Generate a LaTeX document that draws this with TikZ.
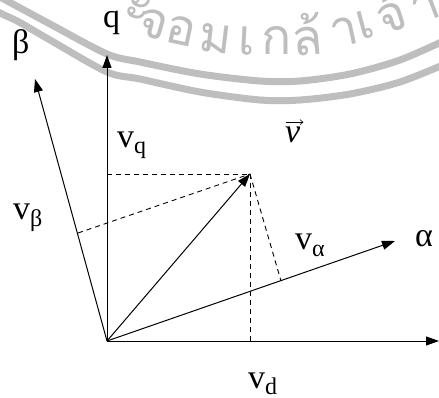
\documentclass[tikz,border=0pt]{standalone}
\usepackage{fontspec}
\setmainfont{Liberation Serif}
\newfontfamily\lbfont{Liberation Serif}
\newfontfamily\thaifont[Script=Thai]{Loma}
\usetikzlibrary{arrows.meta}
\definecolor{wmgray}{RGB}{190,190,190}
\newcommand{\mysub}[1]{\raisebox{-6pt}{\fontsize{24}{26}\selectfont #1}}
\begin{document}
\begin{tikzpicture}[x=1pt,y=-1pt,
  axis/.style={line width=1pt, -{Triangle[length=13pt,width=9pt]}},
  proj/.style={line width=0.9pt, dash pattern=on 5pt off 4pt},
  lbl/.style={inner sep=0pt, anchor=base west, font=\lbfont\fontsize{34}{40}\selectfont},
  wm/.style={line width=7pt, draw=wmgray},
  wmtext/.style={text=wmgray, anchor=base, inner sep=0pt, font=\thaifont\fontsize{50}{60}\selectfont}]
\useasboundingbox (0,0) rectangle (439,398);
% watermark
\draw[wm] plot[smooth] coordinates {(-10,-9) (0,-3) (50,24) (107,54) (140,62) (200,74) (260,81) (300,81) (350,74) (400,60) (450,38)};
\draw[wm] plot[smooth] coordinates {(-10,7) (0,13) (19,22) (50,40) (107,72) (140,79) (200,92) (260,100) (300,100) (350,94) (400,82) (450,62)};
\node[wmtext, rotate=-20] (t1) at (134,20) {ะ};
\node[wmtext, rotate=-16] (t2) at (150,38) {จ};
\node[wmtext, rotate=-12] (t3) at (178,45) {อ};
\node[wmtext, rotate=-7] (t4) at (214,53) {ม};
\node[wmtext, rotate=-3] (t5) at (246,55) {เ};
\node[wmtext, rotate=0] (t6) at (277,55) {ก};
\node[wmtext, rotate=5] (t7) at (309,55) {ล้};
\node[wmtext, rotate=12] (t8) at (347,46) {า};
\node[wmtext, rotate=15] (t9) at (369,38) {เ};
\node[wmtext, rotate=18] (t10) at (396,31) {จ้};
\node[wmtext, rotate=21] (t11) at (431,20) {า};
% points
\coordinate (O) at (107,341);
\coordinate (Q) at (107,55);
\coordinate (D) at (439,341);
\coordinate (B) at (35,79);
\coordinate (A) at (395,241);
\coordinate (P) at (250,174);
\coordinate (Pq) at (107,174);
\coordinate (Pd) at (250,341);
\coordinate (Fb) at (78,233);
\coordinate (Fa) at (281,281);
% projections
\draw[proj] (Pq) -- (P);
\draw[proj] (P) -- (Pd);
\draw[proj] (Fb) -- (P);
\draw[proj] (P) -- (Fa);
% axes
\draw[axis] (O) -- (Q);
\draw[axis] (O) -- (D);
\draw[axis] (O) -- (B);
\draw[axis] (O) -- (A);
\draw[axis] (O) -- (P);
% labels
\node[lbl] (lq) at (103,28) {q};
\node[lbl] (lb) at (12,54) {β};
\node[lbl] (la) at (415,247) {α};
\node[lbl] (vq) at (117,148) {v\mysub{q}};
\node[lbl] (vb) at (13,220) {v\mysub{β}};
\node[lbl] (va) at (295,250) {v\mysub{α}};
\node[lbl] (vd) at (248,388) {v\mysub{d}};
\node[lbl] (vv) at (285,143) {\itshape v};
\draw[line width=0.6pt, -{Straight Barb[length=3pt,width=5pt]}] ([xshift=1pt,yshift=5pt]vv.north west) -- ([xshift=3pt,yshift=5pt]vv.north east);
\end{tikzpicture}
\end{document}
